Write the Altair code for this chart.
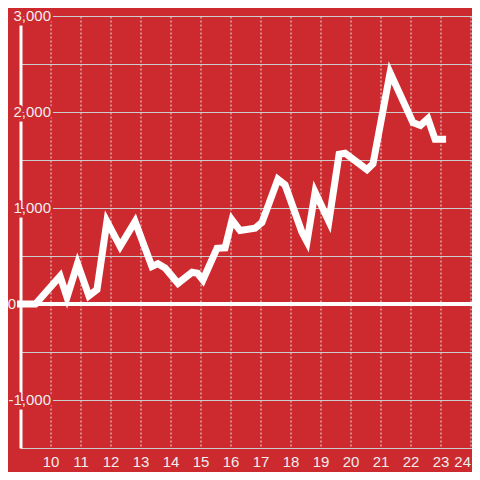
import altair as alt
import pandas as pd

# ---- data ----
hours = [9.0, 9.5, 10.32, 10.55, 10.9, 11.28, 11.55, 11.88, 12.32, 12.82,
         13.38, 13.58, 13.82, 14.25, 14.72, 14.9, 15.08, 15.55, 15.82, 16.05,
         16.32, 16.82, 17.05, 17.58, 17.82, 18.38, 18.55, 18.82, 19.28, 19.62,
         19.82, 20.55, 20.75, 21.32, 22.08, 22.33, 22.58, 22.82, 23.07]
values = [0, 0, 290, 70, 420, 85, 150, 860, 600, 860,
          390, 420, 375, 215, 330, 320, 250, 580, 585, 875,
          765, 790, 850, 1300, 1240, 750, 650, 1165, 860, 1560,
          1570, 1400, 1460, 2410, 1890, 1860, 1930, 1715, 1715]

y_label_values = [3000, 2000, 1000, 0, -1000]
y_label_texts = ["3,000", "2,000", "1,000", "0", "-1,000"]
y_grid_values = [-1500, -1000, -500, 0, 500, 1000, 1500, 2000, 2500, 3000]
x_tick_values = list(range(10, 25))

BG = "#cc2a2f"
FONT = "Liberation Sans"

df = pd.DataFrame({"x": hours, "v": values})
labels = pd.DataFrame({"v": y_label_values, "t": y_label_texts})

xs = alt.Scale(domain=[9, 24.05], nice=False, zero=False)
ys = alt.Scale(domain=[-1500, 3000], nice=False, zero=False)

x_enc = alt.X(
    "x:Q", scale=xs, title=None,
    axis=alt.Axis(values=x_tick_values, grid=True, gridDash=[2, 2],
                  gridColor="#e6e6e6", gridWidth=1, ticks=False,
                  domain=True, domainColor="#cccccc", domainWidth=1,
                  labelColor="#eeeeee", labelFontSize=15, labelFont=FONT,
                  labelPadding=6, labelFlush=3, labelBound=False, format="d"))
y_enc = alt.Y(
    "v:Q", scale=ys, title=None,
    axis=alt.Axis(values=y_grid_values, grid=True, gridColor="#cccccc",
                  gridWidth=1, ticks=False, labels=False, domain=True,
                  domainColor="#ffffff", domainWidth=3))

line = alt.Chart(df).mark_line(
    color="#ffffff", strokeWidth=7, strokeCap="square", strokeJoin="miter"
).encode(x=x_enc, y=y_enc)

zero_rule = alt.Chart(df).mark_rule(
    color="#ffffff", strokeWidth=3
).encode(y=alt.datum(0))

nonzero = alt.Chart(labels).transform_filter("datum.v != 0")

halo = nonzero.mark_text(
    align="right", baseline="middle", fontSize=15, font=FONT,
    color=BG, stroke=BG, strokeWidth=5
).encode(x=alt.value(30.5), y=alt.Y("v:Q"), text="t:N")

label_text = nonzero.mark_text(
    align="right", baseline="middle", fontSize=15, font=FONT,
    color="#eeeeee"
).encode(x=alt.value(30.5), y=alt.Y("v:Q"), text="t:N")

zero_label = alt.Chart(labels).transform_filter("datum.v == 0").mark_text(
    align="right", baseline="middle", fontSize=15, font=FONT,
    color="#eeeeee"
).encode(x=alt.value(-4.5), y=alt.Y("v:Q"), text="t:N")

chart = alt.layer(line, zero_rule, halo, label_text, zero_label).properties(
    width=451.5,
    height=432,
    background=BG,
    autosize=alt.AutoSizeParams(type="none"),
    padding={"left": 12.5, "top": 8, "right": 0, "bottom": 24},
).configure_view(strokeWidth=0)

chart.save("out.html", embed_options={"renderer": "svg", "actions": False})
